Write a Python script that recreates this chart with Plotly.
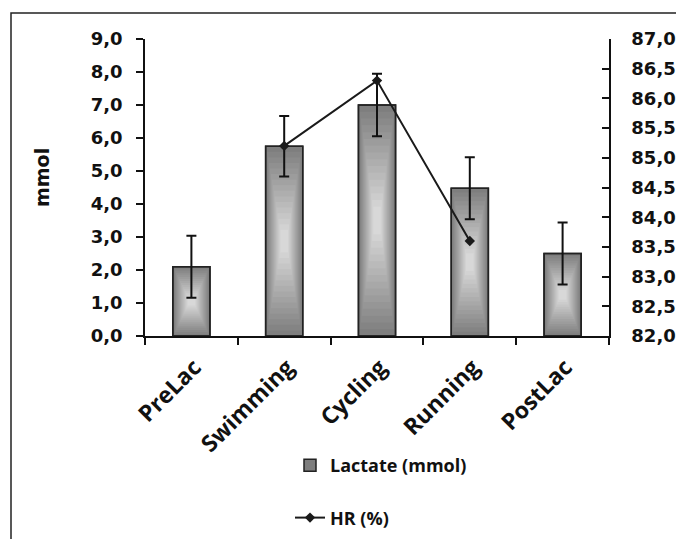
import plotly.graph_objects as go

categories = ["PreLac", "Swimming", "Cycling", "Running", "PostLac"]
lactate = [2.1, 5.75, 7.0, 4.48, 2.5]
lactate_err = [0.94, 0.92, 0.95, 0.94, 0.94]
hr = [None, 85.2, 86.3, 83.6, None]

y_ticks = [0, 1, 2, 3, 4, 5, 6, 7, 8, 9]
y2_ticks = [82.0, 82.5, 83.0, 83.5, 84.0, 84.5, 85.0, 85.5, 86.0, 86.5, 87.0]

num_font = dict(family="DejaVu Sans", size=18, color="#111", weight="bold")
txt_font = "Open Sans"

fig = go.Figure()

fig.add_trace(go.Bar(
    x=categories, y=lactate, width=0.4, name="Lactate (mmol)",
    marker=dict(color="rgb(126,126,126)", line=dict(color="#222", width=1.5), opacity=1),
    yaxis="y",
))
# inner layers imitating the gradient fill
N = 16
for k in range(1, N):
    t = k / N
    c = int(126 + (222 - 126) * t)
    fig.add_trace(go.Bar(
        x=categories,
        y=[v * (1 - 0.94 * t) for v in lactate],
        base=[v * 0.47 * t for v in lactate],
        width=0.4 * (1 - 0.82 * t) - 0.01,
        marker=dict(color=f"rgb({c},{c},{c})", line=dict(width=0), opacity=1),
        showlegend=False, hoverinfo="skip", yaxis="y",
    ))
fig.add_trace(go.Bar(
    x=categories, y=lactate, width=0.4,
    marker=dict(color="rgba(0,0,0,0)", line=dict(color="#222", width=1.5)),
    error_y=dict(type="data", array=lactate_err, color="#111", thickness=2, width=5),
    showlegend=False, hoverinfo="skip", yaxis="y",
))

fig.add_trace(go.Scatter(
    x=categories, y=hr, name="HR (%)", yaxis="y2", mode="lines+markers",
    line=dict(color="#1a1a1a", width=2),
    marker=dict(symbol="diamond", size=8, color="#1a1a1a"),
    connectgaps=False, legendgroup="hr",
))

W, H = 676, 539
L, R, T, B = 145, 609, 39, 336
pw, ph = R - L, B - T

def px_x(x):
    return (x - L) / pw

def px_y(y):
    return (B - y) / ph

fig.update_layout(
    width=W, height=H,
    margin=dict(l=L, r=W - R, t=T, b=H - B, pad=0, autoexpand=False),
    paper_bgcolor="white", plot_bgcolor="white",
    barmode="overlay",
    separators=",.",
    xaxis=dict(
        type="category", showline=True, linecolor="#111", linewidth=1.5,
        ticks="outside", ticklen=7, tickwidth=2, tickcolor="#111", tickson="boundaries",
        tickangle=-45, ticklabelstandoff=7, ticklabelshift=3, automargin=False,
        tickfont=dict(family=txt_font, size=23, color="#111", weight="bold"),
        showgrid=False, zeroline=False, range=[-0.5, 4.5],
    ),
    yaxis=dict(
        range=[0, 9], tickvals=y_ticks, tickformat=".1f", automargin=False,
        showline=True, linecolor="#111", linewidth=1.5,
        ticks="outside", ticklen=7, tickwidth=1.5, tickcolor="#111",
        ticklabelstandoff=10,
        tickfont=num_font, showgrid=False, zeroline=False,
    ),
    yaxis2=dict(
        range=[82, 87], tickvals=y2_ticks, tickformat=".1f", overlaying="y", side="right",
        showline=True, linecolor="#111", linewidth=1.5, automargin=False,
        ticks="inside", ticklen=7, tickwidth=1.5, tickcolor="#111",
        ticklabelstandoff=17,
        tickfont=num_font, showgrid=False, zeroline=False,
    ),
    legend=dict(
        x=px_x(290), y=px_y(536), xanchor="left", yanchor="bottom",
        font=dict(family=txt_font, size=18, color="#111", weight="bold"),
        tracegroupgap=26, bgcolor="rgba(0,0,0,0)",
    ),
    annotations=[dict(
        text="<b>mmol</b>", textangle=-90, xref="paper", yref="paper",
        x=px_x(42), y=px_y(178), xanchor="center", yanchor="middle", showarrow=False,
        font=dict(family="DejaVu Sans", size=19, color="#111"),
    )],
    shapes=[dict(
        type="rect", xref="paper", yref="paper",
        x0=px_x(11), x1=px_x(720), y0=px_y(620), y1=px_y(13),
        line=dict(color="#222", width=1.5), layer="below",
    )],
    showlegend=True,
)

fig.write_html(
    "out.html",
    config={"displayModeBar": False},
    post_script="document.body.style.margin='0';document.body.style.overflow='hidden';",
)
